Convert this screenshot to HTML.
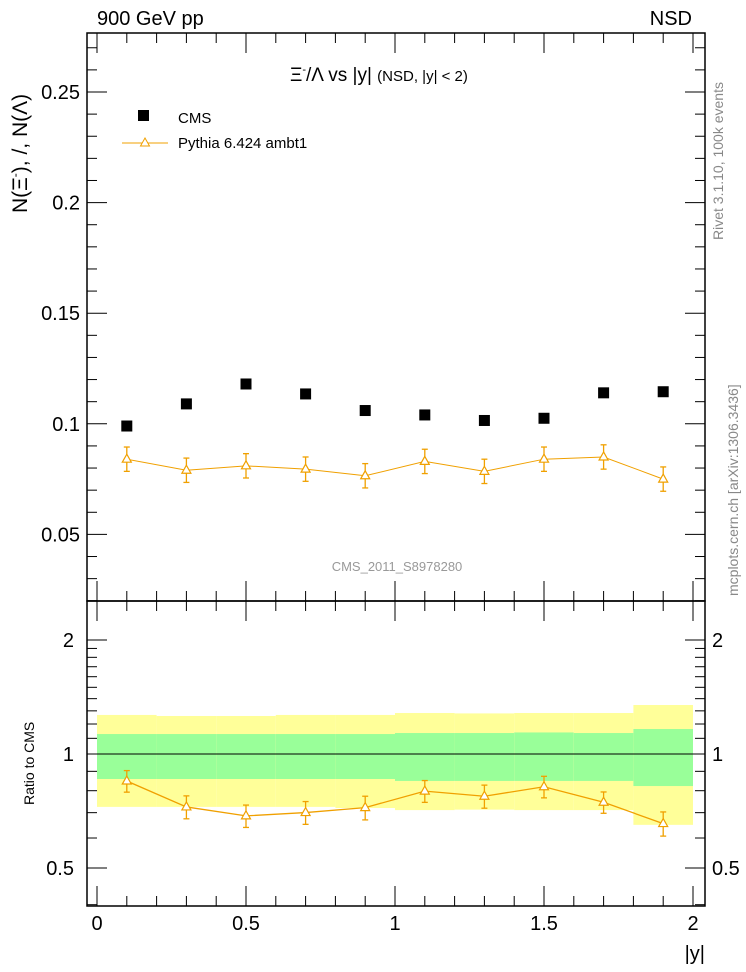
<!DOCTYPE html>
<html><head><meta charset="utf-8"><style>
body{margin:0;background:#fff;}
svg{display:block;font-family:"Liberation Sans",sans-serif;}
</style></head><body>
<svg id="c" width="746" height="972" xmlns="http://www.w3.org/2000/svg">
<text x="97" y="25" font-size="20">900 GeV pp</text>
<text x="692" y="25" font-size="20" text-anchor="end">NSD</text>
<text x="290" y="81" font-size="19">Ξ<tspan font-size="11" dy="-8">-</tspan><tspan dy="8">/Λ vs |y|</tspan> <tspan font-size="15">(NSD, |y| &lt; 2)</tspan></text>
<text x="397" y="571" font-size="13" fill="#999" text-anchor="middle">CMS_2011_S8978280</text>
<text transform="translate(723,240) rotate(-90)" font-size="14" fill="#888">Rivet 3.1.10, 100k events</text>
<text transform="translate(738,596) rotate(-90)" font-size="14" fill="#888">mcplots.cern.ch [arXiv:1306.3436]</text>
<text transform="translate(27,213) rotate(-90)" font-size="21">N(Ξ<tspan font-size="12" dy="-8">-</tspan><tspan dy="8">), /, N(Λ)</tspan></text>
<text transform="translate(34,805) rotate(-90)" font-size="14">Ratio to CMS</text>
<text x="705" y="960" font-size="20" text-anchor="end">|y|</text>
<g id="g"></g>
<g>
<rect x="138" y="110" width="11" height="11" fill="#000"/>
<text x="178" y="123" font-size="15">CMS</text>
<line x1="122" y1="143" x2="168" y2="143" stroke="#f0a000" stroke-width="1"/>
<path d="M145,138 L149.5,146 L140.5,146 Z" fill="#fff" stroke="#f0a000"/>
<text x="178" y="148" font-size="15">Pythia 6.424 ambt1</text>
</g>
</svg>
<script>
const binEdges=[0,0.2,0.4,0.6,0.8,1.0,1.2,1.4,1.6,1.8,2.0];
const cmsValues=[0.099,0.109,0.118,0.1135,0.106,0.104,0.1015,0.1025,0.114,0.1145];
const pythiaValues=[0.084,0.079,0.081,0.0795,0.0765,0.083,0.0785,0.084,0.085,0.075];
const pythiaErrors=[0.0055,0.0055,0.0055,0.0055,0.0055,0.0055,0.0055,0.0055,0.0055,0.0055];
const statBandUp=[1.129,1.129,1.129,1.129,1.129,1.136,1.136,1.14,1.136,1.164];
const statBandDown=[0.859,0.859,0.859,0.859,0.859,0.849,0.849,0.849,0.849,0.823];
const totBandUp=[1.268,1.26,1.26,1.268,1.268,1.283,1.28,1.283,1.283,1.347];
const totBandDown=[0.725,0.725,0.725,0.725,0.72,0.711,0.713,0.711,0.711,0.65];
const mainTicks=[0.05,0.1,0.15,0.2,0.25];
const mainTickLabels=["0.05","0.1","0.15","0.2","0.25"];
const ratioTicks=[0.5,1,2];
const ratioTickLabels=["0.5","1","2"];
const xTicks=[0,0.5,1,1.5,2];
const xTickLabels=["0","0.5","1","1.5","2"];

const NS="http://www.w3.org/2000/svg";
const g=document.getElementById('g');
const L=87,R=705,T=33,MB=601,RB=906;
const X=v=>97+v*298;
const Y=v=>92+(0.25-v)*2212;
const RY=r=>754-Math.log2(r)*114;
function mk(tag,attrs,parent){const e=document.createElementNS(NS,tag);for(const k in attrs)e.setAttribute(k,attrs[k]);(parent||g).appendChild(e);return e;}

for(let i=0;i<cmsValues.length;i++){
  const x1=X(binEdges[i]),x2=X(binEdges[i+1]);
  let e=mk('rect',{x:x1,y:RY(totBandUp[i]),width:x2-x1,height:RY(totBandDown[i])-RY(totBandUp[i]),fill:'#ffff99'});
  
  
  e=mk('rect',{x:x1,y:RY(statBandUp[i]),width:x2-x1,height:RY(statBandDown[i])-RY(statBandUp[i]),fill:'#99ff99'});
  
  
}
let ln=mk('line',{x1:L,x2:R,y1:RY(1),y2:RY(1),stroke:'#000','stroke-width':1});



let fr=mk('rect',{x:L,y:T,width:R-L,height:MB-T,fill:'none',stroke:'#000','stroke-width':1.5});


fr=mk('rect',{x:L,y:MB,width:R-L,height:RB-MB,fill:'none',stroke:'#000','stroke-width':1.5});



for(let k=2;k<=27;k++){
  const v=k/100;const y=Y(v);const major=(k%5===0);
  const len=major?20:10;
  mk('line',{x1:L,x2:L+len,y1:y,y2:y,stroke:'#000'});
  mk('line',{x1:R,x2:R-len,y1:y,y2:y,stroke:'#000'});
}
mainTicks.forEach((v,i)=>{const t=mk('text',{x:80,y:Y(v)+7,'font-size':20,'text-anchor':'end'});t.textContent=mainTickLabels[i];

});
for(let r of [0.4,0.5,0.6,0.7,0.8,0.9,1,1.1,1.2,1.3,1.4,1.5,1.6,1.7,1.8,1.9,2]){
  const major=ratioTicks.includes(r);const len=major?20:10;const y=RY(r);
  mk('line',{x1:L,x2:L+len,y1:y,y2:y,stroke:'#000'});
  mk('line',{x1:R,x2:R-len,y1:y,y2:y,stroke:'#000'});
}
ratioTicks.forEach((v,i)=>{let t=mk('text',{x:74,y:RY(v)+7,'font-size':20,'text-anchor':'end'});t.textContent=ratioTickLabels[i];


t=mk('text',{x:712,y:RY(v)+7,'font-size':20});t.textContent=ratioTickLabels[i];

});
for(let k=0;k<=20;k++){const v=k/10;const major=(k%5===0);const len=major?20:10;const x=X(v);
  mk('line',{x1:x,x2:x,y1:MB,y2:MB-len,stroke:'#000'});
  mk('line',{x1:x,x2:x,y1:T,y2:T+len,stroke:'#000'});
  mk('line',{x1:x,x2:x,y1:RB,y2:RB-len,stroke:'#000'});
  mk('line',{x1:x,x2:x,y1:MB,y2:MB+len,stroke:'#000'});
}
xTicks.forEach((v,i)=>{const t=mk('text',{x:X(v),y:930,'font-size':20,'text-anchor':'middle'});t.textContent=xTickLabels[i];

});

const centers=cmsValues.map((_,i)=>(binEdges[i]+binEdges[i+1])/2);
const ratios=pythiaValues.map((v,i)=>v/cmsValues[i]);
let p=mk('polyline',{points:centers.map((c,i)=>X(c)+','+Y(pythiaValues[i])).join(' '),fill:'none',stroke:'#f0a000','stroke-width':1});


p=mk('polyline',{points:centers.map((c,i)=>X(c)+','+RY(ratios[i])).join(' '),fill:'none',stroke:'#f0a000','stroke-width':1.3});


function tri(x,y,name){
  const e=mk('path',{d:`M${x},${y-5} L${x+4.5},${y+3} L${x-4.5},${y+3} Z`,fill:'#fff',stroke:'#f0a000','stroke-width':1.2});
  
  
}
function err(x,y1,y2){mk('line',{x1:x,x2:x,y1:y1,y2:y2,stroke:'#f0a000','stroke-width':1.3});
  mk('line',{x1:x-3,x2:x+3,y1:y1,y2:y1,stroke:'#f0a000','stroke-width':1.3});
  mk('line',{x1:x-3,x2:x+3,y1:y2,y2:y2,stroke:'#f0a000','stroke-width':1.3});}
centers.forEach((c,i)=>{
  const x=X(c);
  const cm=mk('rect',{x:x-5.5,y:Y(cmsValues[i])-5.5,width:11,height:11,fill:'#000'});
  
  
  err(x,Y(pythiaValues[i]+pythiaErrors[i]),Y(pythiaValues[i]-pythiaErrors[i]));
  tri(x,Y(pythiaValues[i]),'pythia-point');
  const re=pythiaErrors[i]/cmsValues[i];
  err(x,RY(ratios[i]+re),RY(ratios[i]-re));
  tri(x,RY(ratios[i]),'pythia-ratio-point');
});
</script>
</body></html>
